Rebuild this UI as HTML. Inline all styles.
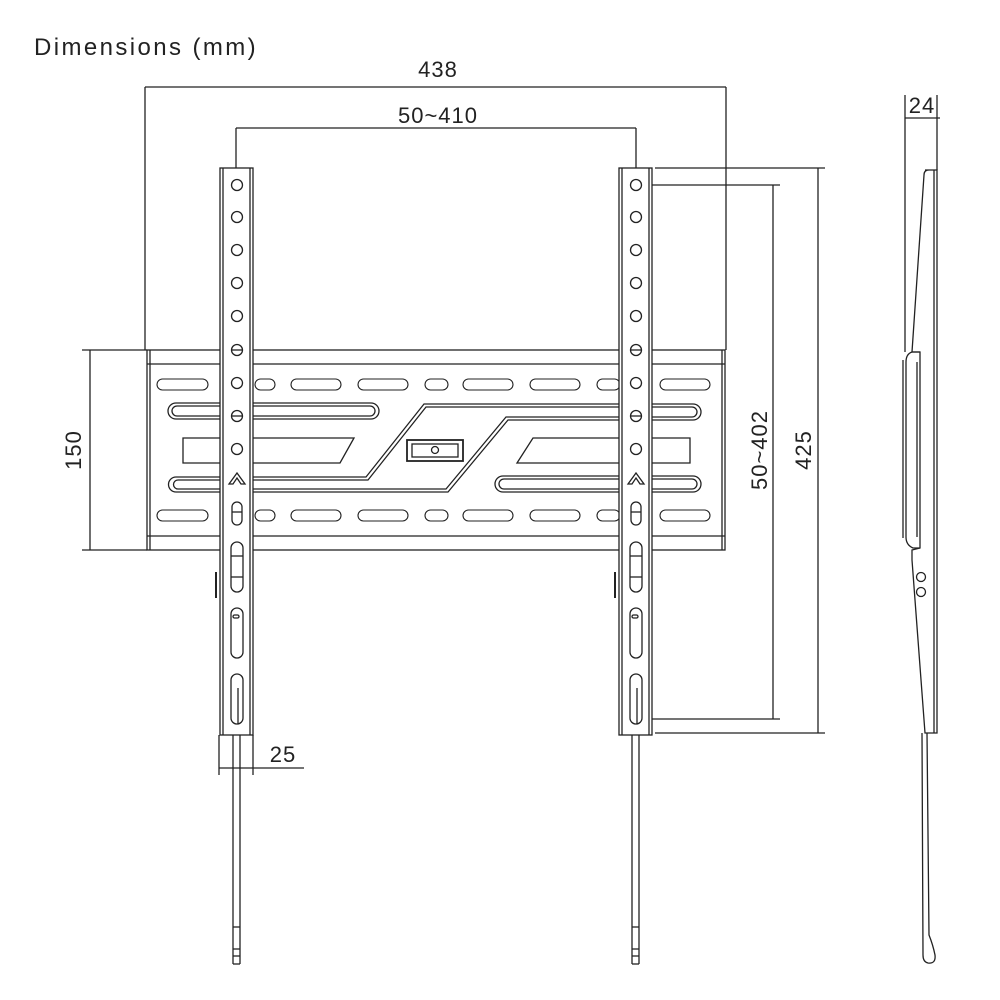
<!DOCTYPE html>
<html><head><meta charset="utf-8"><style>
html,body{margin:0;padding:0;background:#fff;}
svg{display:block;}
text{font-family:"Liberation Sans",sans-serif;fill:#222;}
</style></head><body>
<svg width="1000" height="1000" viewBox="0 0 1000 1000" xmlns="http://www.w3.org/2000/svg">
<rect width="1000" height="1000" fill="#fff"/>
<text x="34" y="55" font-size="24" letter-spacing="2.4">Dimensions (mm)</text>

<g stroke="#222" stroke-width="1.3" fill="none">
<line x1="145" y1="87" x2="726" y2="87"/>
<line x1="145" y1="87" x2="145" y2="350"/>
<line x1="726" y1="87" x2="726" y2="350"/>
<line x1="236" y1="128" x2="636" y2="128"/>
<line x1="236" y1="128" x2="236" y2="185"/>
<line x1="636" y1="128" x2="636" y2="185"/>
<line x1="82" y1="350" x2="147" y2="350"/>
<line x1="82" y1="550" x2="147" y2="550"/>
<line x1="90" y1="350" x2="90" y2="550"/>
<line x1="655" y1="168" x2="825" y2="168"/>
<line x1="655" y1="733" x2="825" y2="733"/>
<line x1="818" y1="168" x2="818" y2="733"/>
<line x1="640" y1="185" x2="780" y2="185"/>
<line x1="640" y1="719" x2="780" y2="719"/>
<line x1="773" y1="185" x2="773" y2="719"/>
<line x1="219" y1="735" x2="219" y2="775"/>
<line x1="253" y1="735" x2="253" y2="775"/>
<line x1="219" y1="768" x2="304" y2="768"/>
<line x1="905" y1="95" x2="905" y2="352"/>
<line x1="937" y1="95" x2="937" y2="170"/>
<line x1="905" y1="118" x2="940" y2="118"/>

<rect x="147" y="350" width="578" height="200" fill="#fff"/>
<line x1="147" y1="364" x2="725" y2="364"/>
<line x1="147" y1="536" x2="725" y2="536"/>
<line x1="150" y1="350" x2="150" y2="550"/>
<line x1="722" y1="350" x2="722" y2="550"/>
<g stroke-width="1.1">
<rect x="157" y="379" width="51" height="11" rx="5.5"/>
<rect x="255" y="379" width="20" height="11" rx="5.5"/>
<rect x="291" y="379" width="50" height="11" rx="5.5"/>
<rect x="358" y="379" width="50" height="11" rx="5.5"/>
<rect x="425" y="379" width="23" height="11" rx="5.5"/>
<rect x="463" y="379" width="50" height="11" rx="5.5"/>
<rect x="530" y="379" width="50" height="11" rx="5.5"/>
<rect x="597" y="379" width="23" height="11" rx="5.5"/>
<rect x="660" y="379" width="50" height="11" rx="5.5"/>
<rect x="157" y="510" width="51" height="11" rx="5.5"/>
<rect x="255" y="510" width="20" height="11" rx="5.5"/>
<rect x="291" y="510" width="50" height="11" rx="5.5"/>
<rect x="358" y="510" width="50" height="11" rx="5.5"/>
<rect x="425" y="510" width="23" height="11" rx="5.5"/>
<rect x="463" y="510" width="50" height="11" rx="5.5"/>
<rect x="530" y="510" width="50" height="11" rx="5.5"/>
<rect x="597" y="510" width="23" height="11" rx="5.5"/>
<rect x="660" y="510" width="50" height="11" rx="5.5"/>
</g>
<rect x="168" y="403" width="211" height="16" rx="8"/>
<rect x="172" y="406" width="203" height="10" rx="5"/>
<rect x="495" y="476" width="206" height="16" rx="8"/>
<rect x="499" y="479" width="198" height="10" rx="5"/>
<path d="M176,477 L366,477 L424,404 L693,404 A8,8 0 0 1 693,420 L508,420 L448,492 L176,492 A7.5,7.5 0 0 1 176,477 Z"/>
<path d="M178,480 L368,480 L426,407 L692,407 A5,5 0 0 1 692,417 L506,417 L446,489 L178,489 A4.5,4.5 0 0 1 178,480 Z"/>
<path d="M183,438 L354,438 L340,463 L183,463 Z"/>
<path d="M533,438 L690,438 L690,463 L517,463 Z"/>
<rect x="407" y="440" width="56" height="21" stroke-width="1.8"/>
<rect x="412" y="444" width="46" height="13"/>
<circle cx="435" cy="450" r="3.5"/>

<g id="arm">
<rect x="220" y="168" width="33" height="567" fill="#fff"/>
<line x1="223" y1="168" x2="223" y2="735"/>
<line x1="250" y1="168" x2="250" y2="735"/>
<circle cx="237" cy="185" r="5.5"/>
<circle cx="237" cy="217" r="5.5"/>
<circle cx="237" cy="250" r="5.5"/>
<circle cx="237" cy="283" r="5.5"/>
<circle cx="237" cy="316" r="5.5"/>
<circle cx="237" cy="350" r="5.5"/><line x1="231.5" y1="350" x2="242.5" y2="350"/>
<circle cx="237" cy="383" r="5.5"/>
<circle cx="237" cy="416" r="5.5"/><line x1="231.5" y1="416" x2="242.5" y2="416"/>
<circle cx="237" cy="449" r="5.5"/>
<path d="M229,484 L237,473 L245,484 L241,484 L237,478 L233,484 Z"/>
<rect x="232" y="502" width="10" height="23" rx="5"/>
<line x1="232" y1="512" x2="242" y2="512"/>
<rect x="231" y="542" width="12" height="50" rx="6"/>
<line x1="231" y1="556" x2="243" y2="556"/>
<line x1="231" y1="577" x2="243" y2="577"/>
<rect x="231" y="608" width="12" height="50" rx="6"/>
<rect x="233" y="615" width="6" height="3" rx="1.5"/>
<rect x="231" y="674" width="12" height="50" rx="6"/>
<line x1="238" y1="688" x2="238" y2="724"/>
<line x1="216" y1="572" x2="216" y2="598" stroke-width="2"/>
<line x1="233" y1="735" x2="233" y2="964"/>
<line x1="240" y1="735" x2="240" y2="964"/>
<line x1="233" y1="964" x2="240" y2="964"/>
<line x1="233" y1="927" x2="240" y2="927"/>
<line x1="233" y1="949" x2="240" y2="949"/>
<line x1="233" y1="956" x2="240" y2="956"/>
</g>
<use href="#arm" x="399"/>

<path d="M925,170 L937,170 L937,733 L925,733 L912,560 L912,550 L920,548 L920,352 L912,352 L924,175 Q924,170 929,170"/>
<line x1="934" y1="170" x2="934" y2="733"/>
<path d="M920,352 L912,352 Q906,354 906,362 L906,537 Q906,545 913,548 L920,548"/>
<path d="M917,362 L917,537"/>
<line x1="903" y1="360" x2="903" y2="538"/>
<circle cx="921" cy="577" r="4.5"/>
<circle cx="921" cy="592" r="4.5"/>
<path d="M922,733 L923,955 Q923,962 928,963 Q936,964 935,955 Q933,945 929,935 L927,733"/>
</g>

<g font-size="22" text-anchor="middle" letter-spacing="1">
<text x="438" y="77">438</text>
<text x="438" y="123">50~410</text>
<text x="283" y="762">25</text>
<text x="922" y="113">24</text>
<text transform="translate(81,450) rotate(-90)">150</text>
<text transform="translate(767,450) rotate(-90)">50~402</text>
<text transform="translate(811,450) rotate(-90)">425</text>
</g>
</svg>
</body></html>
